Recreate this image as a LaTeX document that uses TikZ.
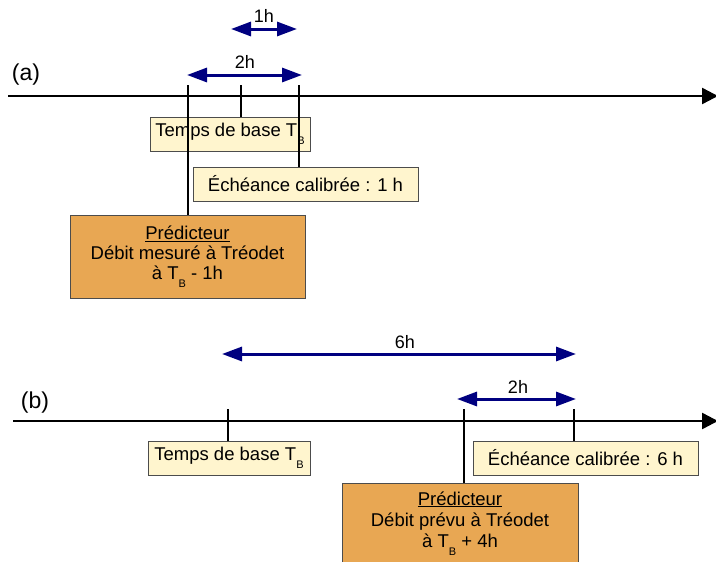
\documentclass[tikz,border=0pt]{standalone}
\usepackage{fontspec}
\setmainfont{Liberation Sans}
\usepackage{tikz}
\usetikzlibrary{arrows.meta, positioning, calc}

\definecolor{arrowblue}{RGB}{0,0,128}
\definecolor{boxyellow}{RGB}{255,245,206}
\definecolor{predorange}{RGB}{232,167,83}
\newcommand{\Tb}{T\raisebox{-8pt}{\fontsize{11}{11}\selectfont B}}

\begin{document}
\begin{tikzpicture}[
        x=1pt, y=-1pt,
        box/.style={draw=black!70, fill=boxyellow, line width=0.8pt, minimum height=34pt, inner sep=0pt, font=\fontsize{18.5}{20}\selectfont},
        pred/.style={draw=black!70, fill=predorange, line width=0.8pt, align=center, inner sep=0pt, font=\fontsize{18.5}{20}\selectfont},
        axis/.style={-{Triangle[length=16pt,width=16pt]}, line width=2.5pt},
        tick/.style={line width=2pt},
        span/.style={{Triangle[length=20pt,width=14pt]}-{Triangle[length=20pt,width=14pt]}, line width=3pt, arrowblue},
        lbl/.style={font=\fontsize{18}{18}\selectfont},
        part/.style={font=\fontsize{23}{23}\selectfont}
    ]
        \useasboundingbox (0,0) rectangle (716,562);
        \clip (0,0) rectangle (716,562);

        % (a)
        \node[part] (partA) at (26,75) {(a)};
        \coordinate (axA0) at (8,96);
        \coordinate (axA1) at (718,96);
        \draw[axis] (axA0) -- (axA1);

        \node[box, minimum width=160pt] (tempsA) at (230,134) {Temps de base \Tb};
        \node[box, minimum width=225pt] (echA) at (305.5,184) {Échéance calibrée : 1 h};
        \node[pred, minimum width=235pt, minimum height=83pt] (predA) at (187.5,256.5)
            {\underline{Prédicteur}\\Débit mesuré à Tréodet\\à \Tb{} - 1h};

        \coordinate (tA1) at (187.5,85);
        \coordinate (tA2) at (241,85);
        \coordinate (tA3) at (299,85);
        \draw[tick] (tA1) -- (predA.north);
        \draw[tick] (tA2) -- (tA2 |- tempsA.north);
        \draw[tick] (tA3) -- (tA3 |- echA.north);

        \coordinate (twoA0) at (187,75);
        \coordinate (twoA1) at (302,75);
        \draw[span] (twoA0) -- (twoA1);
        \node[lbl] (twoAlbl) at (245,62) {2h};
        \coordinate (oneA0) at (231,29);
        \coordinate (oneA1) at (297,29);
        \draw[span] (oneA0) -- (oneA1);
        \node[lbl] (oneAlbl) at (264,16) {1h};

        % (b)
        \node[part] (partB) at (35,403) {(b)};
        \coordinate (axB0) at (13,421);
        \coordinate (axB1) at (718,421);
        \draw[axis] (axB0) -- (axB1);

        \node[box, minimum width=162pt] (tempsB) at (229,458) {Temps de base \Tb};
        \node[box, minimum width=225pt] (echB) at (585.5,458) {Échéance calibrée : 6 h};
        \node[pred, anchor=north, minimum width=236pt, inner ysep=8pt, text depth=80pt, font=\fontsize{18.5}{21}\selectfont] (predB) at (460,483)
            {\underline{Prédicteur}\\Débit prévu à Tréodet\\à \Tb{} + 4h};

        \coordinate (tB1) at (228,409);
        \coordinate (tB2) at (464,409);
        \coordinate (tB3) at (574,409);
        \draw[tick] (tB1) -- (tB1 |- tempsB.north);
        \draw[tick] (tB2) -- (tB2 |- predB.north);
        \draw[tick] (tB3) -- (tB3 |- echB.north);

        \coordinate (sixB0) at (222,354);
        \coordinate (sixB1) at (576,354);
        \draw[span] (sixB0) -- (sixB1);
        \node[lbl] (sixBlbl) at (405,342) {6h};
        \coordinate (twoB0) at (457,399);
        \coordinate (twoB1) at (576,399);
        \draw[span] (twoB0) -- (twoB1);
        \node[lbl] (twoBlbl) at (518,387) {2h};
    \end{tikzpicture}
\end{document}
